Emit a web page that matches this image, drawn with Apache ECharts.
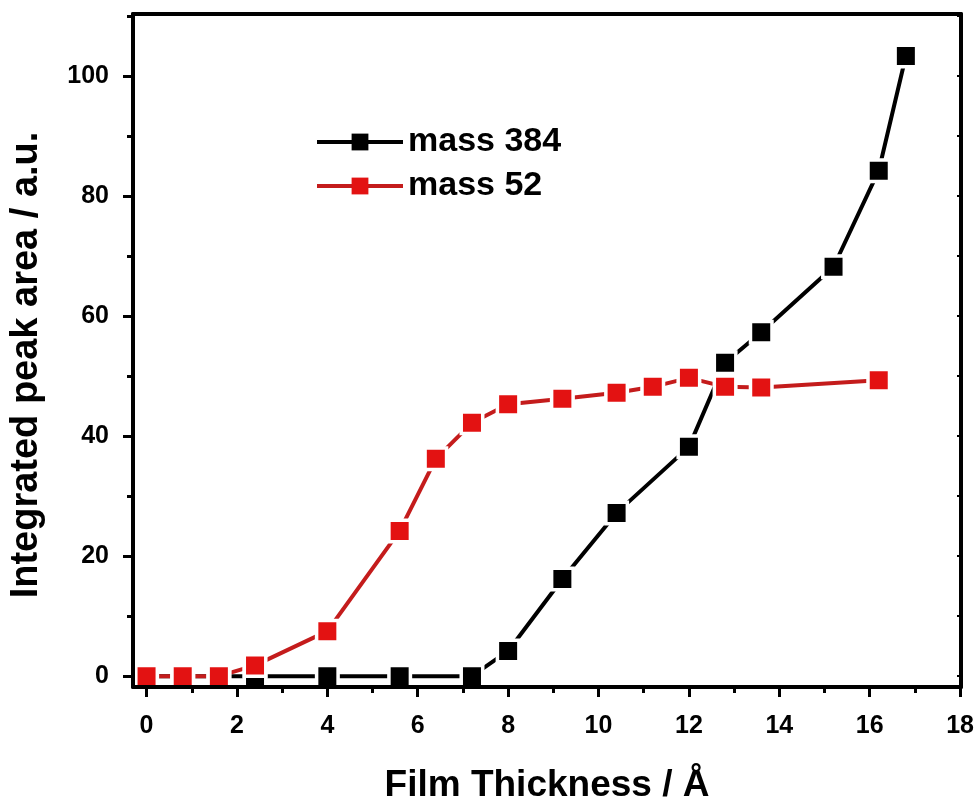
<!DOCTYPE html>
<html>
<head>
<meta charset="utf-8">
<title>Integrated peak area vs film thickness</title>
<script src="https://cdn.jsdelivr.net/npm/echarts@6/dist/echarts.min.js"></script>
<style>
  html, body { margin: 0; padding: 0; background: #ffffff; }
  #chart { width: 977px; height: 798px; }
</style>
</head>
<body>
<div id="chart"></div>
<script>
// Film thickness (Å) for each measurement
const thickness384 = [0, 0.8, 1.6, 2.4, 4, 5.6, 7.2, 8, 9.2, 10.4, 12, 12.8, 13.6, 15.2, 16.2, 16.8];
const area384      = [0, 0,   0,   0,   0, 0,   0,   4.2, 16.2, 27.2, 38.2, 52.2, 57.3, 68.2, 84.2, 103.3];

const thickness52 = [0, 0.8, 1.6, 2.4, 4,   5.6,  6.4,  7.2,  8,    9.2,  10.4, 11.2, 12,   12.8, 13.6, 16.2];
const area52      = [0, 0,   0,   1.8, 7.5, 24.2, 36.2, 42.2, 45.3, 46.2, 47.2, 48.2, 49.7, 48.2, 48.1, 49.3];

const seriesNames = ['mass 384', 'mass 52'];

// Axis ticks
const xMajorTicks = [0, 2, 4, 6, 8, 10, 12, 14, 16, 18];
const xMinorTicks = [1, 3, 5, 7, 9, 11, 13, 15, 17];
const yMajorTicks = [0, 20, 40, 60, 80, 100];
const yMinorTicks = [10, 30, 50, 70, 90, 110];
const yFrameTicks = [0, 10, 20, 30, 40, 50, 60, 70, 80, 90, 100, 110];

const xTitle = 'Film Thickness / Å';
const yTitle = 'Integrated peak area / a.u.';

const FONT = "'Liberation Sans', Arial, sans-serif";
const X_MIN = -0.3, X_MAX = 18.02;
const Y_MIN = -1.8, Y_MAX = 110.3;

const pairs = (xs, ys) => xs.map((x, i) => [x, ys[i]]);

const gridBox = { left: 133, right: 16, top: 14, bottom: 111 };
const frameLine = { show: true, onZero: false, lineStyle: { color: '#000', width: 4 } };
const noLine = { show: false, onZero: false };

const chart = echarts.init(document.getElementById('chart'), null, { renderer: 'canvas' });

chart.setOption({
  animation: false,
  backgroundColor: '#ffffff',
  grid: [
    Object.assign({ containLabel: false }, gridBox),
    Object.assign({ containLabel: false }, gridBox)
  ],
  xAxis: [
    {
      type: 'value', gridIndex: 0, position: 'bottom', min: X_MIN, max: X_MAX, z: 5,
      axisLine: frameLine,
      axisTick: { show: true, inside: false, length: 10, customValues: xMajorTicks,
                  lineStyle: { color: '#000', width: 3 } },
      axisLabel: { show: true, customValues: xMajorTicks, margin: 27,
                   color: '#000', fontFamily: FONT, fontWeight: 'bold', fontSize: 25 },
      splitLine: { show: false }
    },
    {
      // minor ticks along the bottom
      type: 'value', gridIndex: 1, position: 'bottom', min: X_MIN, max: X_MAX, z: 5,
      axisLine: noLine,
      axisTick: { show: true, inside: false, length: 6, customValues: xMinorTicks,
                  lineStyle: { color: '#000', width: 3 } },
      axisLabel: { show: false },
      splitLine: { show: false }
    },
    {
      // top frame edge
      type: 'value', gridIndex: 1, position: 'top', min: X_MIN, max: X_MAX, z: 5,
      axisLine: frameLine,
      axisTick: { show: false },
      axisLabel: { show: false },
      splitLine: { show: false }
    }
  ],
  yAxis: [
    {
      type: 'value', gridIndex: 0, position: 'left', min: Y_MIN, max: Y_MAX, z: 5,
      axisLine: frameLine,
      axisTick: { show: true, inside: false, length: 10, customValues: yMajorTicks,
                  lineStyle: { color: '#000', width: 3 } },
      axisLabel: { show: true, customValues: yMajorTicks, margin: 24,
                   color: '#000', fontFamily: FONT, fontWeight: 'bold', fontSize: 25 },
      splitLine: { show: false }
    },
    {
      // minor ticks along the left
      type: 'value', gridIndex: 1, position: 'left', min: Y_MIN, max: Y_MAX, z: 5,
      axisLine: noLine,
      axisTick: { show: true, inside: false, length: 6, customValues: yMinorTicks,
                  lineStyle: { color: '#000', width: 3 } },
      axisLabel: { show: false },
      splitLine: { show: false }
    },
    {
      // right frame edge with small inward ticks
      type: 'value', gridIndex: 1, position: 'right', min: Y_MIN, max: Y_MAX, z: 5,
      axisLine: frameLine,
      axisTick: { show: true, inside: true, length: 4, customValues: yFrameTicks,
                  lineStyle: { color: '#000', width: 2 } },
      axisLabel: { show: false },
      splitLine: { show: false }
    }
  ],
  legend: {
    orient: 'vertical',
    left: 310,
    top: 120,
    itemWidth: 86,
    itemHeight: 21,
    itemGap: 10,
    itemStyle: { borderWidth: 0 },
    lineStyle: { width: 4 },
    textStyle: { color: '#000', fontFamily: FONT, fontWeight: 'bold', fontSize: 34 },
    data: seriesNames
  },
  graphic: [
    {
      type: 'text', x: 547, y: 786,
      style: { text: xTitle, fill: '#000', font: "bold 37px " + FONT,
               align: 'center', verticalAlign: 'middle' }
    },
    {
      type: 'text', x: 27, y: 365, rotation: Math.PI / 2,
      style: { text: yTitle, fill: '#000', font: "bold 38px " + FONT,
               align: 'center', verticalAlign: 'middle' }
    }
  ],
  series: [
    {
      name: seriesNames[0],
      type: 'line',
      xAxisIndex: 0, yAxisIndex: 0,
      data: pairs(thickness384, area384),
      symbol: 'rect',
      symbolSize: 21.5,
      lineStyle: { color: '#000000', width: 4 },
      itemStyle: { color: '#000000', borderColor: '#ffffff', borderWidth: 3.5 },
      emphasis: { disabled: true }
    },
    {
      name: seriesNames[1],
      type: 'line',
      xAxisIndex: 0, yAxisIndex: 0,
      data: pairs(thickness52, area52),
      symbol: 'rect',
      symbolSize: 21.5,
      lineStyle: { color: '#c41c1c', width: 4 },
      itemStyle: { color: '#e31212', borderColor: '#ffffff', borderWidth: 3.5 },
      emphasis: { disabled: true }
    }
  ]
});
</script>
</body>
</html>
